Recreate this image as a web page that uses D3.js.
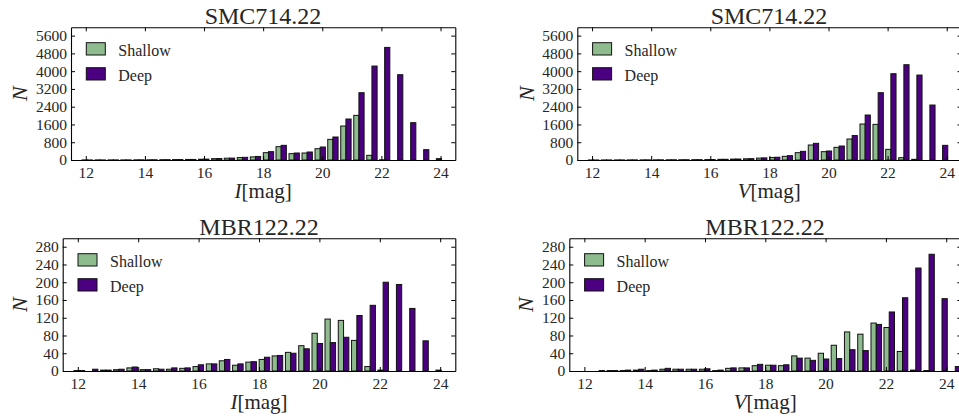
<!DOCTYPE html>
<html>
<head>
<meta charset="utf-8">
<script src="https://cdn.jsdelivr.net/npm/d3@7"></script>
<style>
    body { margin: 0; background: #fff; }
    svg { display: block; }
    text { font-family: "Liberation Serif", "DejaVu Serif", serif; fill: #262626; }
</style>
</head>
<body>
<svg id="chart" width="959" height="419"></svg>
<script>
// histogram bins (magnitude bin centres), shared by every panel
let binCentres = [12.05, 12.49, 12.93, 13.36, 13.80, 14.24, 14.68, 15.11, 15.55, 15.99,
    16.43, 16.86, 17.30, 17.74, 18.18, 18.61, 19.05, 19.49, 19.93, 20.36,
    20.80, 21.24, 21.68, 22.11, 22.55, 22.99, 23.43, 23.86, 24.30];
let binWidth = 0.4375;

// counts per bin
let smcIShallow = [5, 5, 5, 5, 8, 10, 15, 20, 25, 35, 60, 80, 110, 140, 330, 600, 285, 315, 510, 930, 1530, 2010, 210, 10, 0, 0, 0, 0, 0];
let smcIDeep    = [3, 3, 5, 5, 8, 10, 15, 20, 25, 40, 65, 85, 120, 160, 375, 660, 315, 360, 585, 1035, 1845, 3030, 4230, 5070, 3840, 1680, 465, 60, 0];
let smcVShallow = [3, 3, 4, 5, 6, 8, 10, 12, 15, 20, 30, 40, 55, 85, 110, 165, 330, 675, 375, 570, 945, 1620, 1605, 480, 105, 30, 0, 0, 0];
let smcVDeep    = [2, 3, 4, 5, 6, 8, 10, 12, 15, 22, 32, 45, 60, 95, 125, 195, 390, 750, 405, 630, 1100, 2025, 3030, 3885, 4290, 3825, 2475, 660, 0];
let mbrIShallow = [1, 0, 2, 3, 7, 3, 5, 4, 6, 10, 16, 23, 13, 20, 26, 34, 42, 57, 85, 117, 114, 69, 10, 2, 0, 0, 0, 0, 0];
let mbrIDeep    = [1, 4, 2, 4, 9, 3, 4, 7, 7, 14, 16, 26, 16, 21, 31, 35, 40, 50, 62, 64, 76, 125, 148, 200, 195, 141, 68, 2, 0];
let mbrVShallow = [0, 0, 1, 1, 2, 1, 4, 4, 4, 4, 1, 6, 7, 12, 13, 12, 34, 29, 40, 58, 88, 83, 108, 98, 44, 2, 1, 0, 0];
let mbrVDeep    = [0, 1, 1, 2, 4, 2, 6, 4, 4, 5, 2, 7, 7, 15, 13, 14, 29, 24, 27, 28, 48, 46, 105, 133, 165, 232, 263, 163, 10];

let xTicks = [12, 14, 16, 18, 20, 22, 24];
let smcYTicks = [0, 800, 1600, 2400, 3200, 4000, 4800, 5600];
let mbrYTicks = [0, 40, 80, 120, 160, 200, 240, 280];
let seriesNames = ["Shallow", "Deep"];
let seriesColors = ["#8fbc8f", "#4b0082"];

let panels = [
    {title: "SMC714.22", band: "I", shallow: smcIShallow, deep: smcIDeep, yTicks: smcYTicks, yMax: 5975,
        left: 71, right: 455.3, top: 27.3, bottom: 160, nOffset: 51, titleX: 263},
    {title: "SMC714.22", band: "V", shallow: smcVShallow, deep: smcVDeep, yTicks: smcYTicks, yMax: 5975,
        left: 577.3, right: 961.5, top: 27.3, bottom: 160, nOffset: 50, titleX: 769},
    {title: "MBR122.22", band: "I", shallow: mbrIShallow, deep: mbrIDeep, yTicks: mbrYTicks, yMax: 299,
        left: 62.7, right: 455.3, top: 238.3, bottom: 371, nOffset: 43, titleX: 259},
    {title: "MBR122.22", band: "V", shallow: mbrVShallow, deep: mbrVDeep, yTicks: mbrYTicks, yMax: 299,
        left: 569.3, right: 961.3, top: 238.3, bottom: 371, nOffset: 43, titleX: 765}
];

let svg = d3.select("#chart");

panels.forEach(function(p, i) {
    let g = svg.append("g").attr("class", "panel");

    let x = d3.scaleLinear().domain([11.5, 24.5]).range([p.left, p.right]);
    let y = d3.scaleLinear().domain([0, p.yMax]).range([p.bottom, p.top]);

    g.append("clipPath").attr("id", "clip" + i)
        .append("rect")
        .attr("x", p.left).attr("y", p.top)
        .attr("width", p.right - p.left).attr("height", p.bottom - p.top + 1);

    // bars: shallow left half, deep right half of each bin
    let barW = binWidth * 0.4;
    let bars = g.append("g").attr("clip-path", "url(#clip" + i + ")");
    [p.shallow, p.deep].forEach(function(vals, s) {
        bars.selectAll(".bar" + s)
            .data(vals)
            .enter().append("rect")
            .attr("class", "bar" + s)
            .attr("x", function(d, k) { return x(binCentres[k] - barW + s * barW); })
            .attr("y", function(d) { return y(d); })
            .attr("width", x(11.5 + barW) - x(11.5))
            .attr("height", function(d) { return y(0) - y(d); })
            .attr("fill", seriesColors[s])
            .attr("stroke", "#111")
            .attr("stroke-width", 1);
    });

    // axes, ticks pointing inwards on all sides
    let fmt = d3.format("d");
    let xb = g.append("g").attr("transform", `translate(0,${p.bottom})`)
        .call(d3.axisBottom(x).tickValues(xTicks).tickFormat(fmt).tickSize(-4).tickSizeOuter(0).tickPadding(6));
    let xt = g.append("g").attr("transform", `translate(0,${p.top})`)
        .call(d3.axisTop(x).tickValues(xTicks).tickFormat("").tickSize(-4).tickSizeOuter(0));
    let yl = g.append("g").attr("transform", `translate(${p.left},0)`)
        .call(d3.axisLeft(y).tickValues(p.yTicks).tickFormat(fmt).tickSize(-4).tickSizeOuter(0).tickPadding(4));
    let yr = g.append("g").attr("transform", `translate(${p.right},0)`)
        .call(d3.axisRight(y).tickValues(p.yTicks).tickFormat("").tickSize(-4).tickSizeOuter(0));

    [xb, xt, yl, yr].forEach(function(a) {
        a.select(".domain").attr("stroke", "#000").attr("stroke-width", 1.1);
        a.selectAll(".tick line").attr("stroke", "#000").attr("stroke-width", 1);
        a.selectAll("text").style("font-size", "15.5px").attr("fill", "#262626");
    });
    xb.selectAll("text").attr("dy", "0.76em");

    // title
    g.append("text")
        .attr("x", p.titleX)
        .attr("y", p.top - 3.5)
        .attr("text-anchor", "middle")
        .style("font-size", "24px")
        .text(p.title);

    // x label
    let xl = g.append("text")
        .attr("x", (p.left + Math.min(p.right, 959)) / 2 + (p.right > 959 ? 1 : 0))
        .attr("y", p.bottom + 38)
        .attr("text-anchor", "middle")
        .style("font-size", "21px");
    xl.append("tspan").style("font-style", "italic").text(p.band);
    xl.append("tspan").text("[mag]");

    // y label
    g.append("text")
        .attr("transform", `translate(${p.left - p.nOffset + 7}, ${(p.top + p.bottom) / 2}) rotate(-90)`)
        .attr("text-anchor", "middle")
        .style("font-size", "22px")
        .style("font-style", "italic")
        .text("N");

    // legend
    let lg = g.append("g").attr("transform", `translate(${p.left + 15.3}, ${p.top + 15.4})`);
    seriesNames.forEach(function(name, s) {
        lg.append("rect")
            .attr("x", 0).attr("y", s * 25)
            .attr("width", 19).attr("height", 12.3)
            .attr("fill", seriesColors[s])
            .attr("stroke", "#111").attr("stroke-width", 1);
        lg.append("text")
            .attr("x", 32).attr("y", s * 25 + 13.3)
            .style("font-size", "16px")
            .text(name);
    });
});
</script>
</body>
</html>
